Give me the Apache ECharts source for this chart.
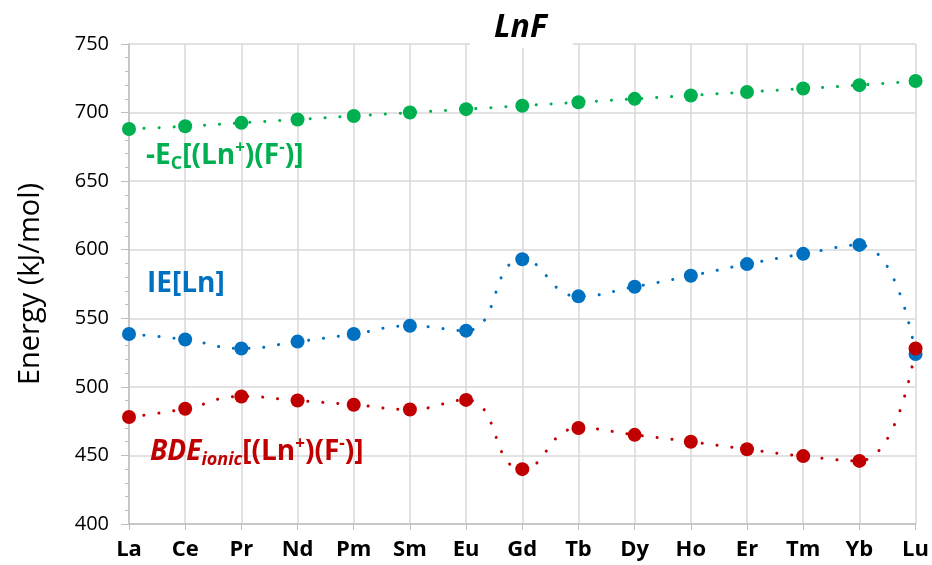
<!DOCTYPE html>
<html>
<head>
<meta charset="utf-8">
<script src="https://cdn.jsdelivr.net/npm/echarts@6/dist/echarts.min.js"></script>
<style>
  html, body { margin: 0; padding: 0; background: #fff; }
  #chart { width: 932px; height: 565px; }
</style>
</head>
<body>
<div id="chart"></div>
<script>
// lanthanide fluorides, values
var elements = ['La', 'Ce', 'Pr', 'Nd', 'Pm', 'Sm', 'Eu', 'Gd', 'Tb', 'Dy', 'Ho', 'Er', 'Tm', 'Yb', 'Lu'];
var coulomb = [688, 690, 692.5, 695, 697.5, 700, 702.5, 705, 707.5, 710, 712.5, 715, 717.5, 720, 723];
var ionization = [538.5, 534.5, 528, 533, 538.5, 544.5, 541, 593, 566, 573, 581, 589.5, 597, 603.5, 524];
var bdeIonic = [478, 484, 493, 490, 487, 483.5, 490.5, 440, 470, 465, 460, 454.5, 449.5, 446, 528];

var FONT = "'Open Sans', 'Noto Sans', sans-serif";

function dotted(name, data, color) {
    return {
        name: name,
        type: 'line',
        data: data,
        smooth: 0.5,
        symbol: 'circle',
        symbolSize: 14,
        itemStyle: { color: color },
        lineStyle: { color: color, width: 3, type: [0.1, 15], cap: 'round' },
        z: 3
    };
}

var chart = echarts.init(document.getElementById('chart'));
chart.setOption({
    animation: false,
    title: {
        text: 'LnF',
        left: 470,
        top: 8,
        padding: [4, 26, 4, 24],
        backgroundColor: '#fff',
        textStyle: { fontFamily: FONT, fontSize: 32, fontWeight: 'bold', fontStyle: 'italic', color: '#000' },
        z: 10
    },
    grid: { left: 129, right: 14, top: 44, bottom: 41 },
    xAxis: {
        type: 'category',
        data: elements,
        boundaryGap: false,
        axisLine: { lineStyle: { color: '#bfbfbf', width: 1.5 } },
        axisTick: { show: true, length: 6, lineStyle: { color: '#bfbfbf' } },
        axisLabel: { color: '#000', fontFamily: FONT, fontWeight: 'bold', fontSize: 22, margin: 15 },
        splitLine: { show: true, lineStyle: { color: '#d9d9d9', width: 1.5 } }
    },
    yAxis: {
        type: 'value',
        min: 400,
        max: 750,
        interval: 50,
        name: 'Energy (kJ/mol)',
        nameLocation: 'middle',
        nameGap: 84,
        nameTextStyle: { fontFamily: FONT, fontSize: 29, color: '#000' },
        axisLine: { show: true, lineStyle: { color: '#bfbfbf', width: 1.5 } },
        axisTick: { show: true, length: 8, lineStyle: { color: '#bfbfbf' } },
        minorTick: { show: true, splitNumber: 5, length: 4, lineStyle: { color: '#bfbfbf' } },
        axisLabel: { color: '#000', fontFamily: FONT, fontSize: 20, margin: 20 },
        splitLine: { show: true, lineStyle: { color: '#d9d9d9', width: 1.5 } }
    },
    series: [
        dotted('-Ec', coulomb, '#00b050'),
        dotted('IE', ionization, '#0070c0'),
        dotted('BDE', bdeIonic, '#c00000')
    ],
    graphic: [
        {
            type: 'text', left: 146, top: 140, z: 20,
            style: {
                text: '{m|-E}{s|C}{m|[(Ln}{p|+}{m|)(F}{p|-}{m|)]}',
                fill: '#00b050',
                rich: {
                    m: { fontFamily: FONT, fontSize: 28, fontWeight: 'bold', fill: '#00b050' },
                    s: { fontFamily: FONT, fontSize: 18, fontWeight: 'bold', fill: '#00b050', verticalAlign: 'bottom', padding: [15, 0, 0, 0] },
                    p: { fontFamily: FONT, fontSize: 17, fontWeight: 'bold', fill: '#00b050', verticalAlign: 'top', padding: [0, 0, 15, 0] }
                }
            }
        },
        {
            type: 'text', left: 147, top: 270, z: 20,
            style: { text: 'IE[Ln]', fill: '#0070c0', font: "bold 28px 'Open Sans', 'Noto Sans', sans-serif" }
        },
        {
            type: 'text', left: 150, top: 436, z: 20,
            style: {
                text: '{m|BDE}{s|ionic}{n|[(Ln}{p|+}{n|)(F}{p|-}{n|)]}',
                fill: '#c00000',
                rich: {
                    m: { fontFamily: FONT, fontSize: 28, fontWeight: 'bold', fontStyle: 'italic', fill: '#c00000' },
                    s: { fontFamily: FONT, fontSize: 18, fontWeight: 'bold', fontStyle: 'italic', fill: '#c00000', verticalAlign: 'bottom', padding: [15, 0, 0, 0] },
                    n: { fontFamily: FONT, fontSize: 28, fontWeight: 'bold', fill: '#c00000' },
                    p: { fontFamily: FONT, fontSize: 17, fontWeight: 'bold', fill: '#c00000', verticalAlign: 'top', padding: [0, 0, 15, 0] }
                }
            }
        }
    ]
});
</script>
</body>
</html>
